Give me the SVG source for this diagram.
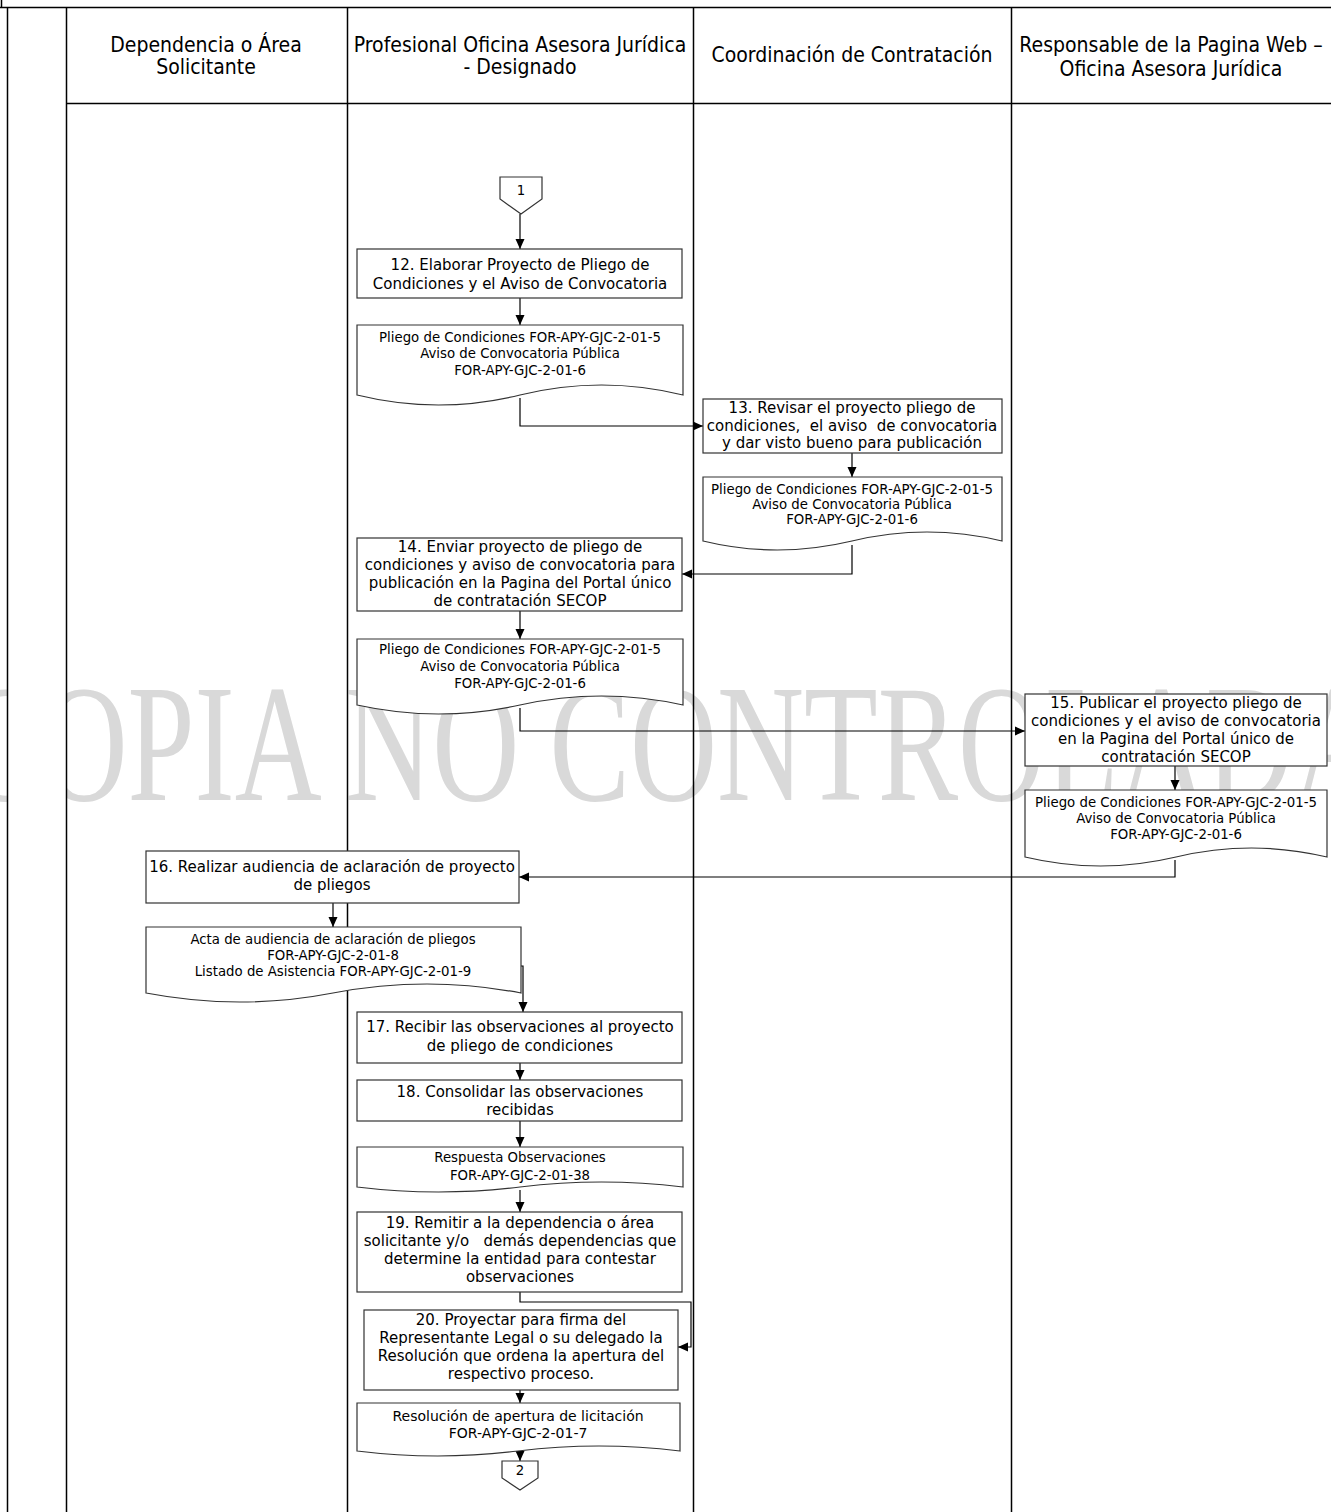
<svg xmlns="http://www.w3.org/2000/svg" width="1331" height="1512" viewBox="0 0 1331 1512">
<style>
.lane{stroke:#000;stroke-width:1.5;fill:none}
.box{fill:#fff;stroke:#333;stroke-width:1.2}
.hdr{font-family:"DejaVu Sans Condensed","DejaVu Sans",sans-serif;font-size:21px;fill:#000;text-anchor:middle}
.t{font-family:"DejaVu Sans",Verdana,sans-serif;font-size:15px;fill:#000;text-anchor:middle}
.t2{font-family:"DejaVu Sans",Verdana,sans-serif;font-size:14px;fill:#000;text-anchor:middle}
.d{font-family:"DejaVu Sans",Verdana,sans-serif;font-size:13.3px;fill:#000;text-anchor:middle}
.c{fill:none;stroke:#000;stroke-width:1.2}
.wm{font-family:"Liberation Serif","Times New Roman",serif;font-size:168px;fill:#d9d9d9}
</style>
<defs>
<marker id="ah" markerUnits="userSpaceOnUse" markerWidth="10" markerHeight="10" refX="10" refY="5" orient="auto">
<path d="M0,0.5 L10,5 L0,9.5 Z" fill="#000"/>
</marker>
</defs>
<rect width="1331" height="1512" fill="#fff"/>
<text class="wm" x="-40" y="800" textLength="1420" lengthAdjust="spacingAndGlyphs">COPIA NO CONTROLADA</text>
<rect x="8" y="104" width="58" height="1408" fill="#fff"/>
<g id="lanes">
<line class="lane" x1="1.5" y1="0" x2="1.5" y2="7.5"/>
<line class="lane" x1="0" y1="7.5" x2="1331" y2="7.5"/>
<line class="lane" x1="7.5" y1="7.5" x2="7.5" y2="1512"/>
<line class="lane" x1="66.5" y1="7.5" x2="66.5" y2="1512"/>
<line class="lane" x1="347.5" y1="7.5" x2="347.5" y2="1512"/>
<line class="lane" x1="693.5" y1="7.5" x2="693.5" y2="1512"/>
<line class="lane" x1="1011.5" y1="7.5" x2="1011.5" y2="1512"/>
<line class="lane" x1="66.5" y1="103.5" x2="1331" y2="103.5"/>
<text class="hdr" x="206" y="52">Dependencia o Área</text>
<text class="hdr" x="206" y="74">Solicitante</text>
<text class="hdr" x="520" y="52">Profesional Oficina Asesora Jurídica</text>
<text class="hdr" x="520" y="74">- Designado</text>
<text class="hdr" x="852" y="62">Coordinación de Contratación</text>
<text class="hdr" x="1171" y="52">Responsable de la Pagina Web –</text>
<text class="hdr" x="1171" y="76">Oficina Asesora Jurídica</text>
</g>
<g id="connectors">
<path class="c" d="M520,214 V249" marker-end="url(#ah)"/>
<path class="c" d="M520,298 V325" marker-end="url(#ah)"/>
<path class="c" d="M520,398 V426 H703" marker-end="url(#ah)"/>
<path class="c" d="M852,453 V477" marker-end="url(#ah)"/>
<path class="c" d="M852,545 V574 H682" marker-end="url(#ah)"/>
<path class="c" d="M520,611 V639" marker-end="url(#ah)"/>
<path class="c" d="M520,708 V731 H1025" marker-end="url(#ah)"/>
<path class="c" d="M1175,766 V790" marker-end="url(#ah)"/>
<path class="c" d="M1175,860 V877 H519" marker-end="url(#ah)"/>
<path class="c" d="M333,903 V927" marker-end="url(#ah)"/>
<path class="c" d="M519,966 H523 V1012" marker-end="url(#ah)"/>
<path class="c" d="M520,1063 V1080" marker-end="url(#ah)"/>
<path class="c" d="M520,1121 V1147" marker-end="url(#ah)"/>
<path class="c" d="M520,1190 V1212" marker-end="url(#ah)"/>
<path class="c" d="M520,1292 V1302 H691 V1347 H678" marker-end="url(#ah)"/>
<path class="c" d="M520,1390 V1403" marker-end="url(#ah)"/>
<path class="c" d="M520,1453 V1461" marker-end="url(#ah)"/>
</g>
<g id="n1">
<path class="box" d="M500,177 H542 V199 L521,214 L500,199 Z"/>
<text class="d" x="521" y="195">1</text>
</g>
<g id="n12">
<rect class="box" x="357" y="249" width="325" height="49"/>
<text class="t" x="520" y="270">12. Elaborar Proyecto de Pliego de</text>
<text class="t" x="520" y="289">Condiciones y el Aviso de Convocatoria</text>
</g>
<g id="d12">
<path class="box" d="M357,325 H683 V395 Q601.5,375 520,395 Q438.5,415 357,395 Z"/>
<text class="d" x="520" y="342">Pliego de Condiciones FOR-APY-GJC-2-01-5</text>
<text class="d" x="520" y="358">Aviso de Convocatoria Pública</text>
<text class="d" x="520" y="375">FOR-APY-GJC-2-01-6</text>
</g>
<g id="n13">
<rect class="box" x="703" y="399" width="299" height="54"/>
<text class="t" x="852" y="413">13. Revisar el proyecto pliego de</text>
<text class="t" x="852" y="431" xml:space="preserve">condiciones,  el aviso  de convocatoria</text>
<text class="t" x="852" y="448">y dar visto bueno para publicación</text>
</g>
<g id="d13">
<path class="box" d="M703,477 H1002 V541 Q927,523 852,541 Q777,559 703,541 Z"/>
<text class="d" x="852" y="494">Pliego de Condiciones FOR-APY-GJC-2-01-5</text>
<text class="d" x="852" y="509">Aviso de Convocatoria Pública</text>
<text class="d" x="852" y="524">FOR-APY-GJC-2-01-6</text>
</g>
<g id="n14">
<rect class="box" x="357" y="538" width="325" height="73"/>
<text class="t" x="520" y="552">14. Enviar proyecto de pliego de</text>
<text class="t" x="520" y="570">condiciones y aviso de convocatoria para</text>
<text class="t" x="520" y="588">publicación en la Pagina del Portal único</text>
<text class="t" x="520" y="606">de contratación SECOP</text>
</g>
<g id="d14">
<path class="box" d="M357,639 H683 V705 Q601.5,687 520,705 Q438.5,723 357,705 Z"/>
<text class="d" x="520" y="654">Pliego de Condiciones FOR-APY-GJC-2-01-5</text>
<text class="d" x="520" y="671">Aviso de Convocatoria Pública</text>
<text class="d" x="520" y="688">FOR-APY-GJC-2-01-6</text>
</g>
<g id="n15">
<rect class="box" x="1025" y="694" width="302" height="72"/>
<text class="t" x="1176" y="708">15. Publicar el proyecto pliego de</text>
<text class="t" x="1176" y="726">condiciones y el aviso de convocatoria</text>
<text class="t" x="1176" y="744">en la Pagina del Portal único de</text>
<text class="t" x="1176" y="762">contratación SECOP</text>
</g>
<g id="d15">
<path class="box" d="M1025,790 H1327 V857 Q1251.5,839 1176,857 Q1100.5,875 1025,857 Z"/>
<text class="d" x="1176" y="807">Pliego de Condiciones FOR-APY-GJC-2-01-5</text>
<text class="d" x="1176" y="823">Aviso de Convocatoria Pública</text>
<text class="d" x="1176" y="839">FOR-APY-GJC-2-01-6</text>
</g>
<g id="n16">
<rect class="box" x="146" y="851" width="373" height="52"/>
<text class="t" x="332" y="872">16. Realizar audiencia de aclaración de proyecto</text>
<text class="t" x="332" y="890">de pliegos</text>
</g>
<g id="d16">
<path class="box" d="M146,927 H521 V993 Q427,975 333,993 Q240,1011 146,993 Z"/>
<text class="d" x="333" y="944">Acta de audiencia de aclaración de pliegos</text>
<text class="d" x="333" y="960">FOR-APY-GJC-2-01-8</text>
<text class="d" x="333" y="976">Listado de Asistencia FOR-APY-GJC-2-01-9</text>
</g>
<g id="n17">
<rect class="box" x="357" y="1012" width="325" height="51"/>
<text class="t" x="520" y="1032">17. Recibir las observaciones al proyecto</text>
<text class="t" x="520" y="1051">de pliego de condiciones</text>
</g>
<g id="n18">
<rect class="box" x="357" y="1080" width="325" height="41"/>
<text class="t" x="520" y="1097">18. Consolidar las observaciones</text>
<text class="t" x="520" y="1115">recibidas</text>
</g>
<g id="d18">
<path class="box" d="M357,1147 H683 V1187 Q601.5,1177 520,1187 Q438.5,1197 357,1187 Z"/>
<text class="d" x="520" y="1162">Respuesta Observaciones</text>
<text class="d" x="520" y="1180">FOR-APY-GJC-2-01-38</text>
</g>
<g id="n19">
<rect class="box" x="357" y="1212" width="325" height="80"/>
<text class="t" x="520" y="1228">19. Remitir a la dependencia o área</text>
<text class="t" x="520" y="1246" xml:space="preserve">solicitante y/o   demás dependencias que</text>
<text class="t" x="520" y="1264">determine la entidad para contestar</text>
<text class="t" x="520" y="1282">observaciones</text>
</g>
<g id="n20">
<rect class="box" x="364" y="1310" width="314" height="80"/>
<text class="t" x="521" y="1325">20. Proyectar para firma del</text>
<text class="t" x="521" y="1343">Representante Legal o su delegado la</text>
<text class="t" x="521" y="1361">Resolución que ordena la apertura del</text>
<text class="t" x="521" y="1379">respectivo proceso.</text>
</g>
<g id="d20">
<path class="box" d="M357,1403 H680 V1451 Q599,1441 518,1451 Q438,1461 357,1451 Z"/>
<text class="t2" x="518" y="1421">Resolución de apertura de licitación</text>
<text class="t2" x="518" y="1438">FOR-APY-GJC-2-01-7</text>
</g>
<g id="n2">
<path class="box" d="M502,1461 H538 V1478 L520,1490 L502,1478 Z"/>
<text class="d" x="520" y="1475">2</text>
</g>
</svg>
